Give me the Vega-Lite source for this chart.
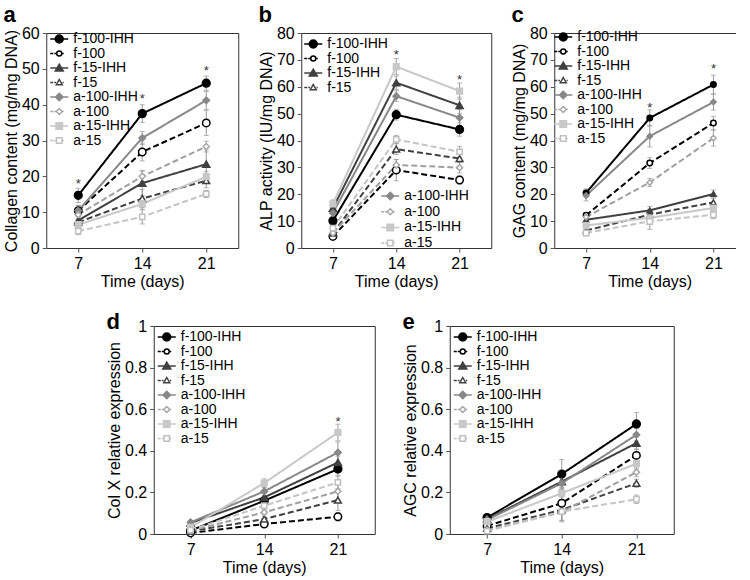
{
"$schema": "https://vega.github.io/schema/vega-lite/v6.json",
"padding": {"left": 2, "top": 3, "right": -46, "bottom": 0},
"config": {
  "font": "Liberation Sans",
  "view": {"stroke": "#333", "strokeWidth": 1},
  "axis": {"grid": false, "domain": false, "labelFontSize": 16, "titleFontSize": 16, "titleFontWeight": "normal", "labelColor": "#000", "titleColor": "#000", "tickColor": "#555", "tickSize": 4, "labelPadding": 3, "titlePadding": 2},
  "title": {"fontSize": 22, "fontWeight": "bold", "anchor": "start", "frame": "bounds", "color": "#000", "offset": -2},
  "legend": {"labelFontSize": 14, "labelColor": "#000", "padding": 0, "rowPadding": 0.5, "symbolSize": 100, "labelOffset": 7, "symbolStrokeWidth": 1.5}
},
"datasets": {
  "A": [
    {"series":"f-100-IHH","day":7,"value":14.7,"err":2},{"series":"f-100-IHH","day":14,"value":37.5,"err":2.5},{"series":"f-100-IHH","day":21,"value":46.0,"err":2},
    {"series":"f-100","day":7,"value":10.4,"err":1.5},{"series":"f-100","day":14,"value":26.8,"err":2.5},{"series":"f-100","day":21,"value":34.9,"err":3.5},
    {"series":"f-15-IHH","day":7,"value":7.7,"err":1.5},{"series":"f-15-IHH","day":14,"value":18.1,"err":3.5},{"series":"f-15-IHH","day":21,"value":23.4,"err":4},
    {"series":"f-15","day":7,"value":7.2,"err":1.5},{"series":"f-15","day":14,"value":13.8,"err":2.5},{"series":"f-15","day":21,"value":18.8,"err":2},
    {"series":"a-100-IHH","day":7,"value":10.4,"err":1.5},{"series":"a-100-IHH","day":14,"value":30.7,"err":1.8},{"series":"a-100-IHH","day":21,"value":41.2,"err":2.5},
    {"series":"a-100","day":7,"value":9.3,"err":1.5},{"series":"a-100","day":14,"value":20.0,"err":1.5},{"series":"a-100","day":21,"value":28.3,"err":1.5},
    {"series":"a-15-IHH","day":7,"value":6.5,"err":1.5},{"series":"a-15-IHH","day":14,"value":12.3,"err":1.5},{"series":"a-15-IHH","day":21,"value":19.9,"err":1.5},
    {"series":"a-15","day":7,"value":4.7,"err":1},{"series":"a-15","day":14,"value":8.7,"err":2},{"series":"a-15","day":21,"value":15.1,"err":1}
  ],
  "B": [
    {"series":"f-100-IHH","day":7,"value":10.1,"err":1.5},{"series":"f-100-IHH","day":14,"value":49.6,"err":2},{"series":"f-100-IHH","day":21,"value":44.1,"err":2.5},
    {"series":"f-100","day":7,"value":4.3,"err":1},{"series":"f-100","day":14,"value":29.0,"err":4},{"series":"f-100","day":21,"value":25.3,"err":1.5},
    {"series":"f-15-IHH","day":7,"value":14.8,"err":2},{"series":"f-15-IHH","day":14,"value":61.5,"err":2.5},{"series":"f-15-IHH","day":21,"value":53.1,"err":3},
    {"series":"f-15","day":7,"value":5.6,"err":1},{"series":"f-15","day":14,"value":36.8,"err":2},{"series":"f-15","day":21,"value":33.3,"err":1.5},
    {"series":"a-100-IHH","day":7,"value":13.0,"err":2},{"series":"a-100-IHH","day":14,"value":56.5,"err":2},{"series":"a-100-IHH","day":21,"value":48.5,"err":3},
    {"series":"a-100","day":7,"value":5.6,"err":1},{"series":"a-100","day":14,"value":30.9,"err":2},{"series":"a-100","day":21,"value":29.9,"err":2},
    {"series":"a-15-IHH","day":7,"value":16.4,"err":1.5},{"series":"a-15-IHH","day":14,"value":67.5,"err":3},{"series":"a-15-IHH","day":21,"value":58.4,"err":3},
    {"series":"a-15","day":7,"value":7.4,"err":1},{"series":"a-15","day":14,"value":40.4,"err":1.5},{"series":"a-15","day":21,"value":35.8,"err":2}
  ],
  "C": [
    {"series":"f-100-IHH","day":7,"value":20.5,"err":1.5},{"series":"f-100-IHH","day":14,"value":48.4,"err":3},{"series":"f-100-IHH","day":21,"value":60.8,"err":3.5},
    {"series":"f-100","day":7,"value":12.2,"err":1},{"series":"f-100","day":14,"value":31.6,"err":2},{"series":"f-100","day":21,"value":46.5,"err":2.5},
    {"series":"f-15-IHH","day":7,"value":10.5,"err":1.5},{"series":"f-15-IHH","day":14,"value":14.0,"err":1.5},{"series":"f-15-IHH","day":21,"value":20.1,"err":1.5},
    {"series":"f-15","day":7,"value":6.5,"err":1},{"series":"f-15","day":14,"value":12.4,"err":2},{"series":"f-15","day":21,"value":17.0,"err":1.5},
    {"series":"a-100-IHH","day":7,"value":19.5,"err":2},{"series":"a-100-IHH","day":14,"value":41.6,"err":4},{"series":"a-100-IHH","day":21,"value":54.3,"err":3},
    {"series":"a-100","day":7,"value":11.5,"err":1.5},{"series":"a-100","day":14,"value":24.4,"err":1.5},{"series":"a-100","day":21,"value":40.9,"err":3},
    {"series":"a-15-IHH","day":7,"value":8.4,"err":1},{"series":"a-15-IHH","day":14,"value":11.2,"err":1.5},{"series":"a-15-IHH","day":21,"value":14.9,"err":1.5},
    {"series":"a-15","day":7,"value":5.6,"err":1},{"series":"a-15","day":14,"value":9.9,"err":3},{"series":"a-15","day":21,"value":12.4,"err":1.5}
  ],
  "D": [
    {"series":"f-100-IHH","day":7,"value":0.016,"err":0.01},{"series":"f-100-IHH","day":14,"value":0.16,"err":0.02},{"series":"f-100-IHH","day":21,"value":0.312,"err":0.03},
    {"series":"f-100","day":7,"value":0.005,"err":0.005},{"series":"f-100","day":14,"value":0.048,"err":0.01},{"series":"f-100","day":21,"value":0.083,"err":0.02},
    {"series":"f-15-IHH","day":7,"value":0.053,"err":0.01},{"series":"f-15-IHH","day":14,"value":0.176,"err":0.02},{"series":"f-15-IHH","day":21,"value":0.344,"err":0.03},
    {"series":"f-15","day":7,"value":0.013,"err":0.01},{"series":"f-15","day":14,"value":0.072,"err":0.02},{"series":"f-15","day":21,"value":0.163,"err":0.05},
    {"series":"a-100-IHH","day":7,"value":0.056,"err":0.01},{"series":"a-100-IHH","day":14,"value":0.205,"err":0.02},{"series":"a-100-IHH","day":21,"value":0.392,"err":0.05},
    {"series":"a-100","day":7,"value":0.016,"err":0.01},{"series":"a-100","day":14,"value":0.104,"err":0.02},{"series":"a-100","day":21,"value":0.205,"err":0.04},
    {"series":"a-15-IHH","day":7,"value":0.032,"err":0.01},{"series":"a-15-IHH","day":14,"value":0.245,"err":0.02},{"series":"a-15-IHH","day":21,"value":0.488,"err":0.04},
    {"series":"a-15","day":7,"value":0.019,"err":0.01},{"series":"a-15","day":14,"value":0.136,"err":0.02},{"series":"a-15","day":21,"value":0.248,"err":0.03}
  ],
  "E": [
    {"series":"f-100-IHH","day":7,"value":0.079,"err":0.01},{"series":"f-100-IHH","day":14,"value":0.288,"err":0.07},{"series":"f-100-IHH","day":21,"value":0.529,"err":0.055},
    {"series":"f-100","day":7,"value":0.039,"err":0.01},{"series":"f-100","day":14,"value":0.148,"err":0.03},{"series":"f-100","day":21,"value":0.378,"err":0.03},
    {"series":"f-15-IHH","day":7,"value":0.072,"err":0.01},{"series":"f-15-IHH","day":14,"value":0.252,"err":0.03},{"series":"f-15-IHH","day":21,"value":0.437,"err":0.03},
    {"series":"f-15","day":7,"value":0.027,"err":0.01},{"series":"f-15","day":14,"value":0.116,"err":0.05},{"series":"f-15","day":21,"value":0.244,"err":0.02},
    {"series":"a-100-IHH","day":7,"value":0.068,"err":0.01},{"series":"a-100-IHH","day":14,"value":0.244,"err":0.03},{"series":"a-100-IHH","day":21,"value":0.477,"err":0.03},
    {"series":"a-100","day":7,"value":0.019,"err":0.01},{"series":"a-100","day":14,"value":0.105,"err":0.04},{"series":"a-100","day":21,"value":0.297,"err":0.02},
    {"series":"a-15-IHH","day":7,"value":0.059,"err":0.01},{"series":"a-15-IHH","day":14,"value":0.196,"err":0.03},{"series":"a-15-IHH","day":21,"value":0.338,"err":0.03},
    {"series":"a-15","day":7,"value":0.014,"err":0.01},{"series":"a-15","day":14,"value":0.108,"err":0.05},{"series":"a-15","day":21,"value":0.167,"err":0.02}
  ],
  "SA": [{"day":7,"value":18},{"day":14,"value":41.5},{"day":21,"value":49.5}],
  "SB": [{"day":14,"value":72},{"day":21,"value":62.5}],
  "SC": [{"day":14,"value":52},{"day":21,"value":66.5}],
  "SD": [{"day":21,"value":0.54}]
},
"resolve": {"scale": {"color": "independent", "strokeDash": "independent", "shape": "independent", "fill": "independent", "stroke": "independent", "size": "independent"}},
"vconcat": [
 {"hconcat": [
  {"width": 192, "height": 215, "title": {"text": "a"},
   "data": {"name": "A"},
   "encoding": {
     "x": {"field": "day", "type": "quantitative", "scale": {"domain": [3.5, 24.5]}, "axis": {"values": [7,14,21], "title": "Time (days)"}},
     "y": {"field": "value", "type": "quantitative", "scale": {"domain": [0, 60]}, "axis": {"values": [0,10,20,30,40,50,60], "title": "Collagen content (mg/mg DNA)"}}
   },
   "resolve": {"scale": {"shape": "independent", "fill": "independent", "stroke": "independent", "size": "independent"}},
   "layer": [
     {"mark": {"type": "errorbar", "color": "#999", "ticks": {"size": 5}}, "encoding": {"yError": {"field": "err"}}},
     {"mark": {"type": "line", "strokeWidth": 2},
      "encoding": {
        "color": {"field": "series", "type": "nominal", "legend": null, "scale": {"domain": ["f-100-IHH","f-100","f-15-IHH","f-15","a-100-IHH","a-100","a-15-IHH","a-15"], "range": ["#000","#000","#404040","#404040","#888","#a0a0a0","#c8c8c8","#c4c4c4"]}},
        "strokeDash": {"field": "series", "type": "nominal", "legend": null, "scale": {"domain": ["f-100-IHH","f-100","f-15-IHH","f-15","a-100-IHH","a-100","a-15-IHH","a-15"], "range": [[1,0],[6,3],[1,0],[6,3],[1,0],[6,3],[1,0],[6,3]]}}
      }},
     {"mark": {"type": "point", "filled": true, "opacity": 1, "strokeWidth": 1.5},
      "encoding": {
        "shape": {"field": "series", "type": "nominal", "legend": null, "scale": {"domain": ["f-100-IHH","f-100","f-15-IHH","f-15","a-100-IHH","a-100","a-15-IHH","a-15"], "range": ["circle","circle","triangle-up","triangle-up","diamond","diamond","square","square"]}},
        "fill": {"field": "series", "type": "nominal", "legend": null, "scale": {"domain": ["f-100-IHH","f-100","f-15-IHH","f-15","a-100-IHH","a-100","a-15-IHH","a-15"], "range": ["#000","#fff","#404040","#fff","#888","#fff","#c8c8c8","#fff"]}},
        "stroke": {"field": "series", "type": "nominal", "legend": null, "scale": {"domain": ["f-100-IHH","f-100","f-15-IHH","f-15","a-100-IHH","a-100","a-15-IHH","a-15"], "range": ["#000","#000","#404040","#404040","#888","#a8a8a8","#c8c8c8","#c0c0c0"]}},
        "size": {"field": "series", "type": "nominal", "legend": null, "scale": {"domain": ["f-100-IHH","f-100","f-15-IHH","f-15","a-100-IHH","a-100","a-15-IHH","a-15"], "range": [60,28,40,28,35,28,35,28]}}
      }},
     {"transform": [{"filter": "false"}],
      "mark": {"type": "point", "filled": true, "opacity": 1, "strokeWidth": 1.5},
      "encoding": {
        "shape": {"field": "series", "type": "nominal", "legend": {"title": null, "orient": "none", "legendX": 6, "legendY": -1}, "scale": {"domain": ["f-100-IHH","f-100","f-15-IHH","f-15","a-100-IHH","a-100","a-15-IHH","a-15"], "range": ["M-1.8,0H1.8M0.8,0A0.8,0.8,0,1,1,-0.8,0A0.8,0.8,0,1,1,0.8,0Z","M-1.8,0H-1.2M-1,0H-0.6M0.6,0H0.9M0.5,0A0.5,0.5,0,1,1,-0.5,0A0.5,0.5,0,1,1,0.5,0Z","M-1.8,0H1.8M0,-0.75L0.8,0.6L-0.8,0.6Z","M-1.8,0H-1.2M-1,0H-0.65M0.65,0H0.9M0,-0.6L0.6,0.45L-0.6,0.45Z","M-1.8,0H1.8M0,-0.75L0.75,0L0,0.75L-0.75,0Z","M-1.8,0H-1.2M-1,0H-0.65M0.65,0H0.9M0,-0.6L0.6,0L0,0.6L-0.6,0Z","M-1.8,0H1.8M-0.65,-0.65H0.65V0.65H-0.65Z","M-1.8,0H-1.2M-1,0H-0.65M0.65,0H0.9M-0.55,-0.55H0.55V0.55H-0.55Z"]}},
        "fill": {"field": "series", "type": "nominal", "legend": {"title": null, "orient": "none", "legendX": 6, "legendY": -1}, "scale": {"domain": ["f-100-IHH","f-100","f-15-IHH","f-15","a-100-IHH","a-100","a-15-IHH","a-15"], "range": ["#000","#fff","#404040","#fff","#888","#fff","#c8c8c8","#fff"]}},
        "stroke": {"field": "series", "type": "nominal", "legend": {"title": null, "orient": "none", "legendX": 6, "legendY": -1}, "scale": {"domain": ["f-100-IHH","f-100","f-15-IHH","f-15","a-100-IHH","a-100","a-15-IHH","a-15"], "range": ["#000","#000","#404040","#404040","#888","#a8a8a8","#c8c8c8","#c0c0c0"]}}
      }},
     {"data": {"name": "SA"}, "mark": {"type": "text", "text": "*", "fontSize": 13, "color": "#333", "baseline": "middle"}}
   ]},
  {"width": 190, "height": 215, "title": {"text": "b"},
   "data": {"name": "B"},
   "encoding": {
     "x": {"field": "day", "type": "quantitative", "scale": {"domain": [3.5, 24.5]}, "axis": {"values": [7,14,21], "title": "Time (days)"}},
     "y": {"field": "value", "type": "quantitative", "scale": {"domain": [0, 80]}, "axis": {"values": [0,10,20,30,40,50,60,70,80], "title": "ALP activity (IU/mg DNA)"}}
   },
   "resolve": {"scale": {"shape": "independent", "fill": "independent", "stroke": "independent", "size": "independent"}},
   "layer": [
     {"mark": {"type": "errorbar", "color": "#999", "ticks": {"size": 5}}, "encoding": {"yError": {"field": "err"}}},
     {"mark": {"type": "line", "strokeWidth": 2},
      "encoding": {
        "color": {"field": "series", "type": "nominal", "legend": null, "scale": {"domain": ["f-100-IHH","f-100","f-15-IHH","f-15","a-100-IHH","a-100","a-15-IHH","a-15"], "range": ["#000","#000","#404040","#404040","#888","#a0a0a0","#c8c8c8","#c4c4c4"]}},
        "strokeDash": {"field": "series", "type": "nominal", "legend": null, "scale": {"domain": ["f-100-IHH","f-100","f-15-IHH","f-15","a-100-IHH","a-100","a-15-IHH","a-15"], "range": [[1,0],[6,3],[1,0],[6,3],[1,0],[6,3],[1,0],[6,3]]}}
      }},
     {"mark": {"type": "point", "filled": true, "opacity": 1, "strokeWidth": 1.5},
      "encoding": {
        "shape": {"field": "series", "type": "nominal", "legend": null, "scale": {"domain": ["f-100-IHH","f-100","f-15-IHH","f-15","a-100-IHH","a-100","a-15-IHH","a-15"], "range": ["circle","circle","triangle-up","triangle-up","diamond","diamond","square","square"]}},
        "fill": {"field": "series", "type": "nominal", "legend": null, "scale": {"domain": ["f-100-IHH","f-100","f-15-IHH","f-15","a-100-IHH","a-100","a-15-IHH","a-15"], "range": ["#000","#fff","#404040","#fff","#888","#fff","#c8c8c8","#fff"]}},
        "stroke": {"field": "series", "type": "nominal", "legend": null, "scale": {"domain": ["f-100-IHH","f-100","f-15-IHH","f-15","a-100-IHH","a-100","a-15-IHH","a-15"], "range": ["#000","#000","#404040","#404040","#888","#a8a8a8","#c8c8c8","#c0c0c0"]}},
        "size": {"field": "series", "type": "nominal", "legend": null, "scale": {"domain": ["f-100-IHH","f-100","f-15-IHH","f-15","a-100-IHH","a-100","a-15-IHH","a-15"], "range": [60,28,40,28,35,28,35,28]}}
      }},
     {"transform": [{"filter": "false"}],
      "mark": {"type": "point", "filled": true, "opacity": 1, "strokeWidth": 1.5},
      "encoding": {
        "shape": {"field": "series", "type": "nominal", "legend": {"title": null, "orient": "none", "legendX": 5, "legendY": 4}, "scale": {"domain": ["f-100-IHH","f-100","f-15-IHH","f-15"], "range": ["M-1.8,0H1.8M0.8,0A0.8,0.8,0,1,1,-0.8,0A0.8,0.8,0,1,1,0.8,0Z","M-1.8,0H-1.2M-1,0H-0.6M0.6,0H0.9M0.5,0A0.5,0.5,0,1,1,-0.5,0A0.5,0.5,0,1,1,0.5,0Z","M-1.8,0H1.8M0,-0.75L0.8,0.6L-0.8,0.6Z","M-1.8,0H-1.2M-1,0H-0.65M0.65,0H0.9M0,-0.6L0.6,0.45L-0.6,0.45Z"]}},
        "fill": {"field": "series", "type": "nominal", "legend": {"title": null, "orient": "none", "legendX": 5, "legendY": 4}, "scale": {"domain": ["f-100-IHH","f-100","f-15-IHH","f-15"], "range": ["#000","#fff","#404040","#fff"]}},
        "stroke": {"field": "series", "type": "nominal", "legend": {"title": null, "orient": "none", "legendX": 5, "legendY": 4}, "scale": {"domain": ["f-100-IHH","f-100","f-15-IHH","f-15"], "range": ["#000","#000","#404040","#404040"]}}
      }},
     {"transform": [{"filter": "false"}],
      "mark": {"type": "point", "filled": true, "opacity": 1, "strokeWidth": 1.5},
      "encoding": {
        "shape": {"field": "series", "type": "nominal", "legend": {"title": null, "orient": "none", "legendX": 82, "legendY": 156, "rowPadding": 1.7}, "scale": {"domain": ["a-100-IHH","a-100","a-15-IHH","a-15"], "range": ["M-1.8,0H1.8M0,-0.75L0.75,0L0,0.75L-0.75,0Z","M-1.8,0H-1.2M-1,0H-0.65M0.65,0H0.9M0,-0.6L0.6,0L0,0.6L-0.6,0Z","M-1.8,0H1.8M-0.65,-0.65H0.65V0.65H-0.65Z","M-1.8,0H-1.2M-1,0H-0.65M0.65,0H0.9M-0.55,-0.55H0.55V0.55H-0.55Z"]}},
        "fill": {"field": "series", "type": "nominal", "legend": {"title": null, "orient": "none", "legendX": 82, "legendY": 156, "rowPadding": 1.7}, "scale": {"domain": ["a-100-IHH","a-100","a-15-IHH","a-15"], "range": ["#888","#fff","#c8c8c8","#fff"]}},
        "stroke": {"field": "series", "type": "nominal", "legend": {"title": null, "orient": "none", "legendX": 82, "legendY": 156, "rowPadding": 1.7}, "scale": {"domain": ["a-100-IHH","a-100","a-15-IHH","a-15"], "range": ["#888","#a8a8a8","#c8c8c8","#c0c0c0"]}}
      }},
     {"data": {"name": "SB"}, "mark": {"type": "text", "text": "*", "fontSize": 13, "color": "#333", "baseline": "middle"}}
   ]},
  {"width": 191, "height": 215, "title": {"text": "c"},
   "data": {"name": "C"},
   "encoding": {
     "x": {"field": "day", "type": "quantitative", "scale": {"domain": [3.5, 24.5]}, "axis": {"values": [7,14,21], "title": "Time (days)"}},
     "y": {"field": "value", "type": "quantitative", "scale": {"domain": [0, 80]}, "axis": {"values": [0,10,20,30,40,50,60,70,80], "title": "GAG content (mg/mg DNA)"}}
   },
   "resolve": {"scale": {"shape": "independent", "fill": "independent", "stroke": "independent", "size": "independent"}},
   "layer": [
     {"mark": {"type": "errorbar", "color": "#999", "ticks": {"size": 5}}, "encoding": {"yError": {"field": "err"}}},
     {"mark": {"type": "line", "strokeWidth": 2},
      "encoding": {
        "color": {"field": "series", "type": "nominal", "legend": null, "scale": {"domain": ["f-100-IHH","f-100","f-15-IHH","f-15","a-100-IHH","a-100","a-15-IHH","a-15"], "range": ["#000","#000","#404040","#404040","#888","#a0a0a0","#c8c8c8","#c4c4c4"]}},
        "strokeDash": {"field": "series", "type": "nominal", "legend": null, "scale": {"domain": ["f-100-IHH","f-100","f-15-IHH","f-15","a-100-IHH","a-100","a-15-IHH","a-15"], "range": [[1,0],[6,3],[1,0],[6,3],[1,0],[6,3],[1,0],[6,3]]}}
      }},
     {"mark": {"type": "point", "filled": true, "opacity": 1, "strokeWidth": 1.5},
      "encoding": {
        "shape": {"field": "series", "type": "nominal", "legend": null, "scale": {"domain": ["f-100-IHH","f-100","f-15-IHH","f-15","a-100-IHH","a-100","a-15-IHH","a-15"], "range": ["circle","circle","triangle-up","triangle-up","diamond","diamond","square","square"]}},
        "fill": {"field": "series", "type": "nominal", "legend": null, "scale": {"domain": ["f-100-IHH","f-100","f-15-IHH","f-15","a-100-IHH","a-100","a-15-IHH","a-15"], "range": ["#000","#fff","#404040","#fff","#888","#fff","#c8c8c8","#fff"]}},
        "stroke": {"field": "series", "type": "nominal", "legend": null, "scale": {"domain": ["f-100-IHH","f-100","f-15-IHH","f-15","a-100-IHH","a-100","a-15-IHH","a-15"], "range": ["#000","#000","#404040","#404040","#888","#a8a8a8","#c8c8c8","#c0c0c0"]}}
      }},
     {"transform": [{"filter": "false"}],
      "mark": {"type": "point", "filled": true, "opacity": 1, "strokeWidth": 1.5},
      "encoding": {
        "shape": {"field": "series", "type": "nominal", "legend": {"title": null, "orient": "none", "legendX": 2, "legendY": -3}, "scale": {"domain": ["f-100-IHH","f-100","f-15-IHH","f-15","a-100-IHH","a-100","a-15-IHH","a-15"], "range": ["M-1.8,0H1.8M0.8,0A0.8,0.8,0,1,1,-0.8,0A0.8,0.8,0,1,1,0.8,0Z","M-1.8,0H-1.2M-1,0H-0.6M0.6,0H0.9M0.5,0A0.5,0.5,0,1,1,-0.5,0A0.5,0.5,0,1,1,0.5,0Z","M-1.8,0H1.8M0,-0.75L0.8,0.6L-0.8,0.6Z","M-1.8,0H-1.2M-1,0H-0.65M0.65,0H0.9M0,-0.6L0.6,0.45L-0.6,0.45Z","M-1.8,0H1.8M0,-0.75L0.75,0L0,0.75L-0.75,0Z","M-1.8,0H-1.2M-1,0H-0.65M0.65,0H0.9M0,-0.6L0.6,0L0,0.6L-0.6,0Z","M-1.8,0H1.8M-0.65,-0.65H0.65V0.65H-0.65Z","M-1.8,0H-1.2M-1,0H-0.65M0.65,0H0.9M-0.55,-0.55H0.55V0.55H-0.55Z"]}},
        "fill": {"field": "series", "type": "nominal", "legend": {"title": null, "orient": "none", "legendX": 2, "legendY": -3}, "scale": {"domain": ["f-100-IHH","f-100","f-15-IHH","f-15","a-100-IHH","a-100","a-15-IHH","a-15"], "range": ["#000","#fff","#404040","#fff","#888","#fff","#c8c8c8","#fff"]}},
        "stroke": {"field": "series", "type": "nominal", "legend": {"title": null, "orient": "none", "legendX": 2, "legendY": -3}, "scale": {"domain": ["f-100-IHH","f-100","f-15-IHH","f-15","a-100-IHH","a-100","a-15-IHH","a-15"], "range": ["#000","#000","#404040","#404040","#888","#a8a8a8","#c8c8c8","#c0c0c0"]}}
      }},
     {"transform": [{"filter": "false"}],
      "mark": {"type": "point"},
      "encoding": {
        "size": {"field": "series", "type": "nominal", "scale": {"domain": ["m"], "range": [100]}, "legend": {"title": null, "orient": "right", "offset": 36, "labelOffset": 0, "labelExpr": "''", "labelColor": "transparent", "symbolOpacity": 0, "symbolFillColor": "transparent", "symbolStrokeColor": "transparent"}}
      }},
     {"data": {"name": "SC"}, "mark": {"type": "text", "text": "*", "fontSize": 13, "color": "#333", "baseline": "middle"}}
   ]}
 ], "spacing": 63, "bounds": "flush",
 "resolve": {"scale": {"color": "independent", "strokeDash": "independent", "shape": "independent", "fill": "independent", "stroke": "independent", "size": "independent"}}},
 {"hconcat": [
  {"width": 221, "height": 208, "title": {"text": "d", "dy": 14},
   "data": {"name": "D"},
   "encoding": {
     "x": {"field": "day", "type": "quantitative", "scale": {"domain": [3.5, 24.5]}, "axis": {"values": [7,14,21], "title": "Time (days)"}},
     "y": {"field": "value", "type": "quantitative", "scale": {"domain": [0, 1]}, "axis": {"values": [0,0.2,0.4,0.6,0.8,1], "format": ".1~f", "title": "Col X relative expression"}}
   },
   "resolve": {"scale": {"shape": "independent", "fill": "independent", "stroke": "independent", "size": "independent"}},
   "layer": [
     {"mark": {"type": "errorbar", "color": "#999", "ticks": {"size": 5}}, "encoding": {"yError": {"field": "err"}}},
     {"mark": {"type": "line", "strokeWidth": 2},
      "encoding": {
        "color": {"field": "series", "type": "nominal", "legend": null, "scale": {"domain": ["f-100-IHH","f-100","f-15-IHH","f-15","a-100-IHH","a-100","a-15-IHH","a-15"], "range": ["#000","#000","#404040","#404040","#888","#a0a0a0","#c8c8c8","#c4c4c4"]}},
        "strokeDash": {"field": "series", "type": "nominal", "legend": null, "scale": {"domain": ["f-100-IHH","f-100","f-15-IHH","f-15","a-100-IHH","a-100","a-15-IHH","a-15"], "range": [[1,0],[6,3],[1,0],[6,3],[1,0],[6,3],[1,0],[6,3]]}}
      }},
     {"mark": {"type": "point", "filled": true, "opacity": 1, "strokeWidth": 1.5},
      "encoding": {
        "shape": {"field": "series", "type": "nominal", "legend": null, "scale": {"domain": ["f-100-IHH","f-100","f-15-IHH","f-15","a-100-IHH","a-100","a-15-IHH","a-15"], "range": ["circle","circle","triangle-up","triangle-up","diamond","diamond","square","square"]}},
        "fill": {"field": "series", "type": "nominal", "legend": null, "scale": {"domain": ["f-100-IHH","f-100","f-15-IHH","f-15","a-100-IHH","a-100","a-15-IHH","a-15"], "range": ["#000","#fff","#404040","#fff","#888","#fff","#c8c8c8","#fff"]}},
        "stroke": {"field": "series", "type": "nominal", "legend": null, "scale": {"domain": ["f-100-IHH","f-100","f-15-IHH","f-15","a-100-IHH","a-100","a-15-IHH","a-15"], "range": ["#000","#000","#404040","#404040","#888","#a8a8a8","#c8c8c8","#c0c0c0"]}},
        "size": {"field": "series", "type": "nominal", "legend": null, "scale": {"domain": ["f-100-IHH","f-100","f-15-IHH","f-15","a-100-IHH","a-100","a-15-IHH","a-15"], "range": [60,28,40,28,35,28,35,28]}}
      }},
     {"transform": [{"filter": "false"}],
      "mark": {"type": "point", "filled": true, "opacity": 1, "strokeWidth": 1.5},
      "encoding": {
        "shape": {"field": "series", "type": "nominal", "legend": {"title": null, "orient": "none", "legendX": 6, "legendY": 4}, "scale": {"domain": ["f-100-IHH","f-100","f-15-IHH","f-15","a-100-IHH","a-100","a-15-IHH","a-15"], "range": ["M-1.8,0H1.8M0.8,0A0.8,0.8,0,1,1,-0.8,0A0.8,0.8,0,1,1,0.8,0Z","M-1.8,0H-1.2M-1,0H-0.6M0.6,0H0.9M0.5,0A0.5,0.5,0,1,1,-0.5,0A0.5,0.5,0,1,1,0.5,0Z","M-1.8,0H1.8M0,-0.75L0.8,0.6L-0.8,0.6Z","M-1.8,0H-1.2M-1,0H-0.65M0.65,0H0.9M0,-0.6L0.6,0.45L-0.6,0.45Z","M-1.8,0H1.8M0,-0.75L0.75,0L0,0.75L-0.75,0Z","M-1.8,0H-1.2M-1,0H-0.65M0.65,0H0.9M0,-0.6L0.6,0L0,0.6L-0.6,0Z","M-1.8,0H1.8M-0.65,-0.65H0.65V0.65H-0.65Z","M-1.8,0H-1.2M-1,0H-0.65M0.65,0H0.9M-0.55,-0.55H0.55V0.55H-0.55Z"]}},
        "fill": {"field": "series", "type": "nominal", "legend": {"title": null, "orient": "none", "legendX": 6, "legendY": 4}, "scale": {"domain": ["f-100-IHH","f-100","f-15-IHH","f-15","a-100-IHH","a-100","a-15-IHH","a-15"], "range": ["#000","#fff","#404040","#fff","#888","#fff","#c8c8c8","#fff"]}},
        "stroke": {"field": "series", "type": "nominal", "legend": {"title": null, "orient": "none", "legendX": 6, "legendY": 4}, "scale": {"domain": ["f-100-IHH","f-100","f-15-IHH","f-15","a-100-IHH","a-100","a-15-IHH","a-15"], "range": ["#000","#000","#404040","#404040","#888","#a8a8a8","#c8c8c8","#c0c0c0"]}}
      }},
     {"data": {"name": "SD"}, "mark": {"type": "text", "text": "*", "fontSize": 13, "color": "#333", "baseline": "middle"}}
   ]},
  {"width": 224, "height": 208, "title": {"text": "e", "dy": 14},
   "data": {"name": "E"},
   "encoding": {
     "x": {"field": "day", "type": "quantitative", "scale": {"domain": [3.5, 24.5]}, "axis": {"values": [7,14,21], "title": "Time (days)"}},
     "y": {"field": "value", "type": "quantitative", "scale": {"domain": [0, 1]}, "axis": {"values": [0,0.2,0.4,0.6,0.8,1], "format": ".1~f", "title": "AGC relative expression"}}
   },
   "resolve": {"scale": {"shape": "independent", "fill": "independent", "stroke": "independent", "size": "independent"}},
   "layer": [
     {"mark": {"type": "errorbar", "color": "#999", "ticks": {"size": 5}}, "encoding": {"yError": {"field": "err"}}},
     {"mark": {"type": "line", "strokeWidth": 2},
      "encoding": {
        "color": {"field": "series", "type": "nominal", "legend": null, "scale": {"domain": ["f-100-IHH","f-100","f-15-IHH","f-15","a-100-IHH","a-100","a-15-IHH","a-15"], "range": ["#000","#000","#404040","#404040","#888","#a0a0a0","#c8c8c8","#c4c4c4"]}},
        "strokeDash": {"field": "series", "type": "nominal", "legend": null, "scale": {"domain": ["f-100-IHH","f-100","f-15-IHH","f-15","a-100-IHH","a-100","a-15-IHH","a-15"], "range": [[1,0],[6,3],[1,0],[6,3],[1,0],[6,3],[1,0],[6,3]]}}
      }},
     {"mark": {"type": "point", "filled": true, "opacity": 1, "strokeWidth": 1.5},
      "encoding": {
        "shape": {"field": "series", "type": "nominal", "legend": null, "scale": {"domain": ["f-100-IHH","f-100","f-15-IHH","f-15","a-100-IHH","a-100","a-15-IHH","a-15"], "range": ["circle","circle","triangle-up","triangle-up","diamond","diamond","square","square"]}},
        "fill": {"field": "series", "type": "nominal", "legend": null, "scale": {"domain": ["f-100-IHH","f-100","f-15-IHH","f-15","a-100-IHH","a-100","a-15-IHH","a-15"], "range": ["#000","#fff","#404040","#fff","#888","#fff","#c8c8c8","#fff"]}},
        "stroke": {"field": "series", "type": "nominal", "legend": null, "scale": {"domain": ["f-100-IHH","f-100","f-15-IHH","f-15","a-100-IHH","a-100","a-15-IHH","a-15"], "range": ["#000","#000","#404040","#404040","#888","#a8a8a8","#c8c8c8","#c0c0c0"]}},
        "size": {"field": "series", "type": "nominal", "legend": null, "scale": {"domain": ["f-100-IHH","f-100","f-15-IHH","f-15","a-100-IHH","a-100","a-15-IHH","a-15"], "range": [60,28,40,28,35,28,35,28]}}
      }},
     {"transform": [{"filter": "false"}],
      "mark": {"type": "point", "filled": true, "opacity": 1, "strokeWidth": 1.5},
      "encoding": {
        "shape": {"field": "series", "type": "nominal", "legend": {"title": null, "orient": "none", "legendX": 6, "legendY": 4}, "scale": {"domain": ["f-100-IHH","f-100","f-15-IHH","f-15","a-100-IHH","a-100","a-15-IHH","a-15"], "range": ["M-1.8,0H1.8M0.8,0A0.8,0.8,0,1,1,-0.8,0A0.8,0.8,0,1,1,0.8,0Z","M-1.8,0H-1.2M-1,0H-0.6M0.6,0H0.9M0.5,0A0.5,0.5,0,1,1,-0.5,0A0.5,0.5,0,1,1,0.5,0Z","M-1.8,0H1.8M0,-0.75L0.8,0.6L-0.8,0.6Z","M-1.8,0H-1.2M-1,0H-0.65M0.65,0H0.9M0,-0.6L0.6,0.45L-0.6,0.45Z","M-1.8,0H1.8M0,-0.75L0.75,0L0,0.75L-0.75,0Z","M-1.8,0H-1.2M-1,0H-0.65M0.65,0H0.9M0,-0.6L0.6,0L0,0.6L-0.6,0Z","M-1.8,0H1.8M-0.65,-0.65H0.65V0.65H-0.65Z","M-1.8,0H-1.2M-1,0H-0.65M0.65,0H0.9M-0.55,-0.55H0.55V0.55H-0.55Z"]}},
        "fill": {"field": "series", "type": "nominal", "legend": {"title": null, "orient": "none", "legendX": 6, "legendY": 4}, "scale": {"domain": ["f-100-IHH","f-100","f-15-IHH","f-15","a-100-IHH","a-100","a-15-IHH","a-15"], "range": ["#000","#fff","#404040","#fff","#888","#fff","#c8c8c8","#fff"]}},
        "stroke": {"field": "series", "type": "nominal", "legend": {"title": null, "orient": "none", "legendX": 6, "legendY": 4}, "scale": {"domain": ["f-100-IHH","f-100","f-15-IHH","f-15","a-100-IHH","a-100","a-15-IHH","a-15"], "range": ["#000","#000","#404040","#404040","#888","#a8a8a8","#c8c8c8","#c0c0c0"]}}
      }}
   ]}
 ], "spacing": 75, "bounds": "flush",
 "resolve": {"scale": {"color": "independent", "strokeDash": "independent", "shape": "independent", "fill": "independent", "stroke": "independent", "size": "independent"}}}
],
"spacing": 20, "center": true
}
